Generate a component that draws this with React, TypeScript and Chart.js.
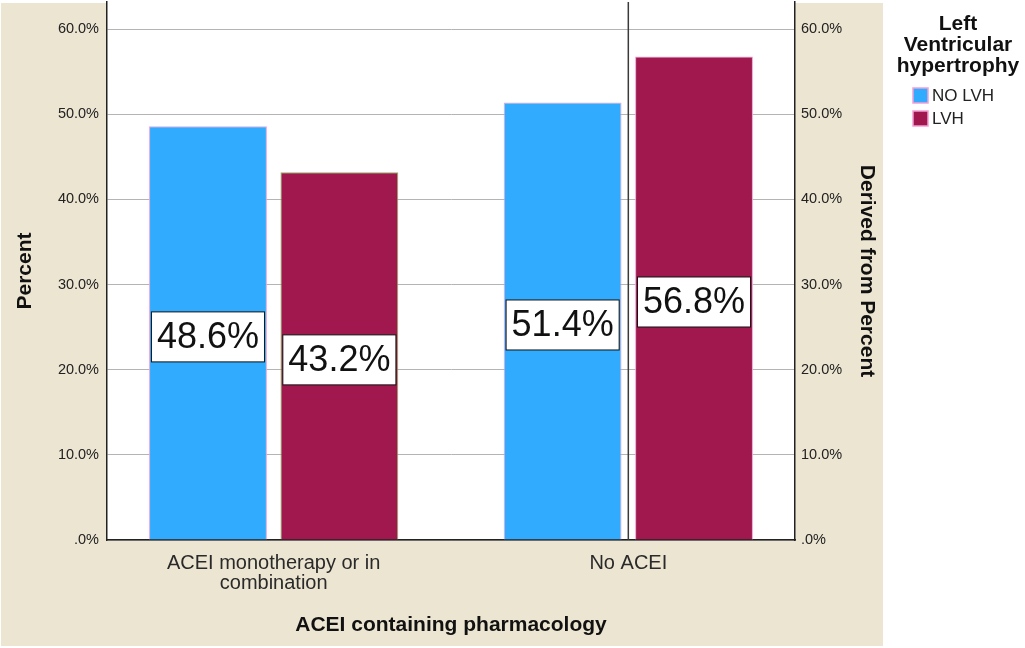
import React, { useEffect, useRef } from "react";
import { Chart, registerables } from "chart.js";

Chart.register(...registerables);

// data
const categories = [["ACEI monotherapy or in", "combination"], ["No ACEI"]];
const seriesNames = ["NO LVH", "LVH"];
const noLvhValues = [48.6, 51.4];
const lvhValues = [43.2, 56.8];
const yTicks = [0, 10, 20, 30, 40, 50, 60];
const legendTitle = ["Left", "Ventricular", "hypertrophy"];

const BLUE = "#31abfd";
const MAROON = "#a0184e";
const PINK = "#f2a0d6";
const GREEN = "#7cc152";
const BEIGE = "#ebe5d1";
const FONT = "'Liberation Sans', Arial, sans-serif";
const seriesColors = [BLUE, MAROON];

Chart.defaults.font.family = FONT;

const pct = (v: number) => (v === 0 ? ".0%" : v.toFixed(1) + "%");

// beige backdrop and white plot area
const panelPlugin = {
  id: "panel",
  beforeDraw(chart: any) {
    const { ctx, chartArea: a } = chart;
    ctx.save();
    ctx.fillStyle = "#fff";
    ctx.fillRect(0, 0, chart.width, chart.height);
    ctx.fillStyle = BEIGE;
    ctx.fillRect(1, 3, 882, 643);
    ctx.fillStyle = "#fff";
    ctx.fillRect(a.left, a.top, a.right - a.left, a.bottom - a.top);
    ctx.restore();
  },
};

// the dark vertical rule in the second group
const dividerPlugin = {
  id: "divider",
  beforeDatasetsDraw(chart: any) {
    const { ctx, chartArea: a } = chart;
    const x = chart.scales.x.getPixelForValue(1);
    ctx.save();
    ctx.strokeStyle = "#3a3a3a";
    ctx.lineWidth = 1.5;
    ctx.beginPath();
    ctx.moveTo(x, a.top);
    ctx.lineTo(x, a.bottom);
    ctx.stroke();
    ctx.restore();
  },
};

// boxed value labels in the middle of each bar
const valueLabelPlugin = {
  id: "valueLabels",
  afterDatasetsDraw(chart: any) {
    const { ctx } = chart;
    ctx.save();
    ctx.font = `36px ${FONT}`;
    ctx.textAlign = "center";
    ctx.textBaseline = "middle";
    chart.data.datasets.forEach((ds: any, di: number) => {
      const meta = chart.getDatasetMeta(di);
      meta.data.forEach((bar: any, i: number) => {
        const text = pct(ds.data[i].y);
        const w = ctx.measureText(text).width + 11;
        const h = 50;
        const cy = (bar.y + bar.base) / 2 + 4;
        ctx.fillStyle = "#fff";
        ctx.fillRect(bar.x - w / 2, cy - h / 2, w, h);
        ctx.strokeStyle = "#111";
        ctx.lineWidth = 1;
        ctx.strokeRect(bar.x - w / 2, cy - h / 2, w, h);
        ctx.fillStyle = "#111";
        ctx.fillText(text, bar.x, cy + 1);
      });
    });
    ctx.restore();
  },
};

// legend on the right, outside the beige panel
const legendPlugin = {
  id: "sideLegend",
  afterDraw(chart: any) {
    const { ctx } = chart;
    ctx.save();
    ctx.fillStyle = "#111";
    ctx.font = `bold 21px ${FONT}`;
    ctx.textAlign = "center";
    ctx.textBaseline = "middle";
    legendTitle.forEach((t, i) => ctx.fillText(t, 958, 24 + i * 21));
    seriesNames.forEach((name, i) => {
      const y = 88 + i * 23;
      ctx.fillStyle = seriesColors[i];
      ctx.fillRect(913, y, 15, 15);
      ctx.strokeStyle = PINK;
      ctx.lineWidth = 1.5;
      ctx.strokeRect(913, y, 15, 15);
      ctx.fillStyle = "#222";
      ctx.font = `17px ${FONT}`;
      ctx.textAlign = "left";
      ctx.fillText(name, 932, y + 8.5);
    });
    ctx.restore();
  },
};

const yTickOpts = (padding: number) => ({
  color: "#222",
  font: { size: 14.5 },
  padding,
  callback: (v: any) => pct(Number(v)),
});

export default function App() {
  const canvasRef = useRef<HTMLCanvasElement>(null);

  useEffect(() => {
    if (!canvasRef.current) return;
    const chart = new Chart(canvasRef.current, {
      type: "bar",
      data: {
        datasets: [
          {
            label: seriesNames[0],
            data: noLvhValues.map((v, i) => ({ x: i, y: v })),
            backgroundColor: BLUE,
            borderColor: PINK,
            borderWidth: 1,
            categoryPercentage: 0.741,
            barPercentage: 0.897,
          },
          {
            label: seriesNames[1],
            data: lvhValues.map((v, i) => ({ x: i, y: v })),
            backgroundColor: MAROON,
            borderColor: [GREEN, PINK],
            borderWidth: 1,
            categoryPercentage: 0.741,
            barPercentage: 0.897,
          },
        ],
      },
      options: {
        animation: false,
        responsive: true,
        maintainAspectRatio: false,
        layout: { padding: { left: 2, top: 2, right: 142, bottom: 2 }, autoPadding: false },
        plugins: { legend: { display: false }, tooltip: { enabled: false } },
        scales: {
          x: {
            type: "linear",
            min: -0.47,
            max: 1.47,
            offset: false,
            bounds: "data",
            afterBuildTicks: (s: any) => {
              s.ticks = categories.map((_, i) => ({ value: i }));
            },
            afterFit: (s: any) => {
              s.height = 106;
              s.paddingLeft = 0;
              s.paddingRight = 0;
            },
            grid: { display: false, drawTicks: false },
            border: { display: true, color: "#222", width: 1.5 },
            ticks: {
              color: "#2a2a2a",
              font: { size: 20, lineHeight: 1 },
              padding: 13,
              maxRotation: 0,
              autoSkip: false,
              callback: (v: any) => categories[Math.round(Number(v))],
            },
            title: {
              display: true,
              text: "ACEI containing pharmacology",
              color: "#111",
              font: { size: 21, weight: "bold" },
              padding: { top: 0, bottom: 8 },
            },
          },
          y: {
            position: "left",
            min: 0,
            max: 63.2,
            bounds: "data",
            afterBuildTicks: (s: any) => {
              s.ticks = yTicks.map((v) => ({ value: v }));
            },
            afterFit: (s: any) => {
              s.width = 105;
              s.paddingTop = 0;
              s.paddingBottom = 0;
            },
            grid: { color: "#b4b4b4", lineWidth: 1, drawTicks: false },
            border: { display: true, color: "#222", width: 1.5 },
            ticks: yTickOpts(8),
            title: {
              display: true,
              text: "Percent",
              color: "#111",
              font: { size: 21, weight: "bold" },
              padding: { top: 11, bottom: 0 },
            },
          },
          y2: {
            position: "right",
            min: 0,
            max: 63.2,
            bounds: "data",
            afterBuildTicks: (s: any) => {
              s.ticks = yTicks.map((v) => ({ value: v }));
            },
            afterFit: (s: any) => {
              s.width = 88;
              s.paddingTop = 0;
              s.paddingBottom = 0;
            },
            grid: { display: false, drawTicks: false },
            border: { display: true, color: "#222", width: 1.5 },
            ticks: yTickOpts(6),
            title: {
              display: true,
              text: "Derived from Percent",
              color: "#111",
              font: { size: 21, weight: "bold" },
              padding: { top: 4, bottom: 0 },
            },
          },
        },
      } as any,
      plugins: [panelPlugin, dividerPlugin, valueLabelPlugin, legendPlugin],
    });
    return () => chart.destroy();
  }, []);

  return (
    <div style={{ position: "absolute", left: 0, top: 0, width: 1025, height: 648 }}>
      <canvas ref={canvasRef} />
    </div>
  );
}
